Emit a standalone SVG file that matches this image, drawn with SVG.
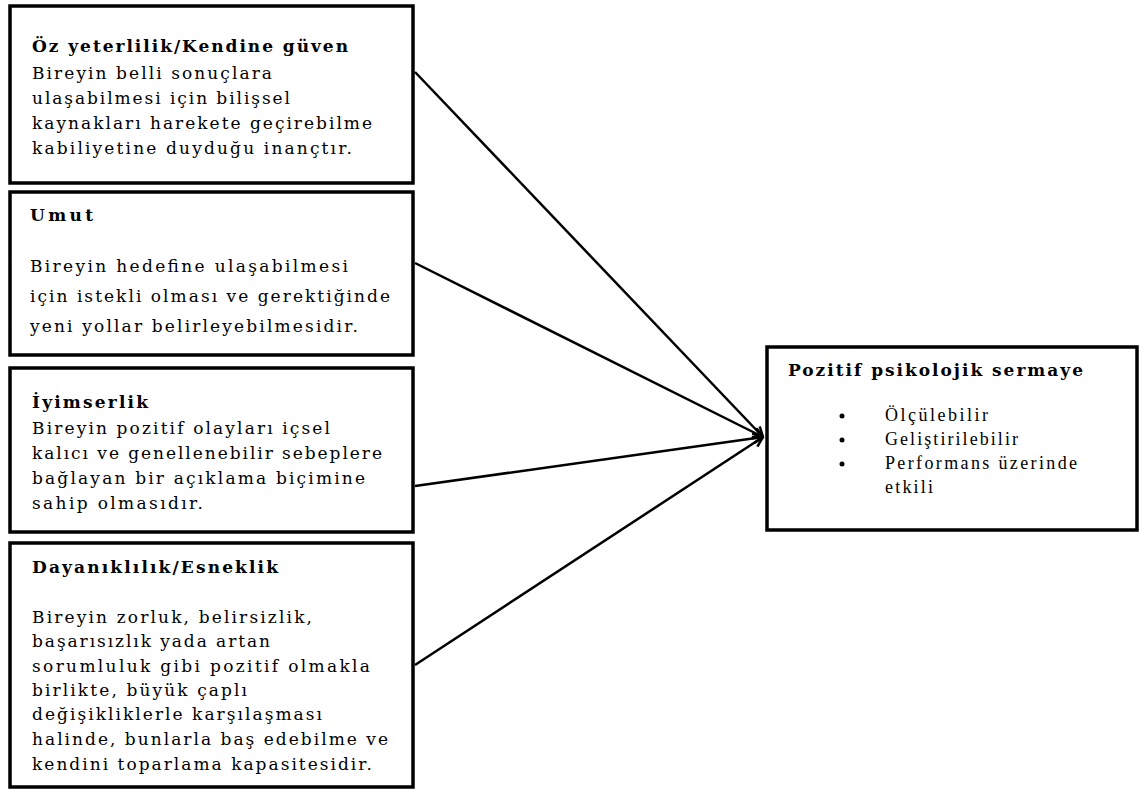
<svg xmlns="http://www.w3.org/2000/svg" width="1139" height="790" viewBox="0 0 1139 790">
<defs>
<style>
.box{fill:#fff;stroke:#000;stroke-width:3.5}
.t{font-family:"DejaVu Serif","Liberation Serif",serif;font-size:17px;fill:#000}
.b{font-weight:bold}
.l{font-family:"Liberation Serif","DejaVu Serif",serif;font-size:18px;fill:#000}
.c{stroke:#000;stroke-width:2.5;fill:none}
</style>
<marker id="ah" viewBox="0 0 12 12" refX="11" refY="6" markerWidth="12" markerHeight="12" markerUnits="userSpaceOnUse" orient="auto">
<path d="M1,1 L11,6 L1,11" fill="none" stroke="#000" stroke-width="2.5"/>
</marker>
</defs>
<rect width="1139" height="790" fill="#fff"/>
<g id="connectors">
<line class="c" x1="415" y1="72" x2="763" y2="437" marker-end="url(#ah)"/>
<line class="c" x1="415" y1="263" x2="763" y2="437" marker-end="url(#ah)"/>
<line class="c" x1="415" y1="486" x2="763" y2="437" marker-end="url(#ah)"/>
<line class="c" x1="415" y1="665" x2="763" y2="437" marker-end="url(#ah)"/>
</g>
<g id="node-oz">
<rect class="box" x="10" y="6" width="403" height="177"/>
<text class="t b" x="32" y="52" textLength="316" lengthAdjust="spacing">Öz yeterlilik/Kendine güven</text>
<text class="t" x="32" y="79" textLength="240" lengthAdjust="spacing">Bireyin belli sonuçlara</text>
<text class="t" x="32" y="104" textLength="258" lengthAdjust="spacing">ulaşabilmesi için bilişsel</text>
<text class="t" x="32" y="129" textLength="340" lengthAdjust="spacing">kaynakları harekete geçirebilme</text>
<text class="t" x="32" y="154" textLength="320" lengthAdjust="spacing">kabiliyetine duyduğu inançtır.</text>
</g>
<g id="node-umut">
<rect class="box" x="10" y="192" width="403" height="163"/>
<text class="t b" x="30" y="221" textLength="63" lengthAdjust="spacing">Umut</text>
<text class="t" x="30" y="272" textLength="318" lengthAdjust="spacing">Bireyin hedefine ulaşabilmesi</text>
<text class="t" x="30" y="302" textLength="360" lengthAdjust="spacing">için istekli olması ve gerektiğinde</text>
<text class="t" x="30" y="332" textLength="328" lengthAdjust="spacing">yeni yollar belirleyebilmesidir.</text>
</g>
<g id="node-iyimserlik">
<rect class="box" x="10" y="368" width="403" height="164"/>
<text class="t b" x="32" y="408" textLength="116" lengthAdjust="spacing">İyimserlik</text>
<text class="t" x="32" y="434" textLength="298" lengthAdjust="spacing">Bireyin pozitif olayları içsel</text>
<text class="t" x="32" y="459" textLength="350" lengthAdjust="spacing">kalıcı ve genellenebilir sebeplere</text>
<text class="t" x="32" y="484" textLength="333" lengthAdjust="spacing">bağlayan bir açıklama biçimine</text>
<text class="t" x="32" y="509" textLength="171" lengthAdjust="spacing">sahip olmasıdır.</text>
</g>
<g id="node-dayaniklilik">
<rect class="box" x="10" y="543" width="403" height="244"/>
<text class="t b" x="32" y="573" textLength="246" lengthAdjust="spacing">Dayanıklılık/Esneklik</text>
<text class="t" x="32" y="623" textLength="280" lengthAdjust="spacing">Bireyin zorluk, belirsizlik,</text>
<text class="t" x="32" y="647" textLength="238" lengthAdjust="spacing">başarısızlık yada artan</text>
<text class="t" x="32" y="672" textLength="338" lengthAdjust="spacing">sorumluluk gibi pozitif olmakla</text>
<text class="t" x="32" y="696" textLength="215" lengthAdjust="spacing">birlikte, büyük çaplı</text>
<text class="t" x="32" y="720" textLength="290" lengthAdjust="spacing">değişikliklerle karşılaşması</text>
<text class="t" x="32" y="745" textLength="356" lengthAdjust="spacing">halinde, bunlarla baş edebilme ve</text>
<text class="t" x="32" y="770" textLength="340" lengthAdjust="spacing">kendini toparlama kapasitesidir.</text>
</g>
<g id="node-pozitif">
<rect class="box" x="767" y="347" width="370" height="183"/>
<text class="t b" x="788" y="376" textLength="295" lengthAdjust="spacing">Pozitif psikolojik sermaye</text>
<circle cx="842" cy="416" r="2.5" fill="#000"/>
<circle cx="842" cy="440" r="2.5" fill="#000"/>
<circle cx="842" cy="464" r="2.5" fill="#000"/>
<text class="l" x="885" y="421" textLength="103" lengthAdjust="spacing">Ölçülebilir</text>
<text class="l" x="885" y="445" textLength="133" lengthAdjust="spacing">Geliştirilebilir</text>
<text class="l" x="885" y="469" textLength="192" lengthAdjust="spacing">Performans üzerinde</text>
<text class="l" x="885" y="493" textLength="48" lengthAdjust="spacing">etkili</text>
</g>
</svg>
